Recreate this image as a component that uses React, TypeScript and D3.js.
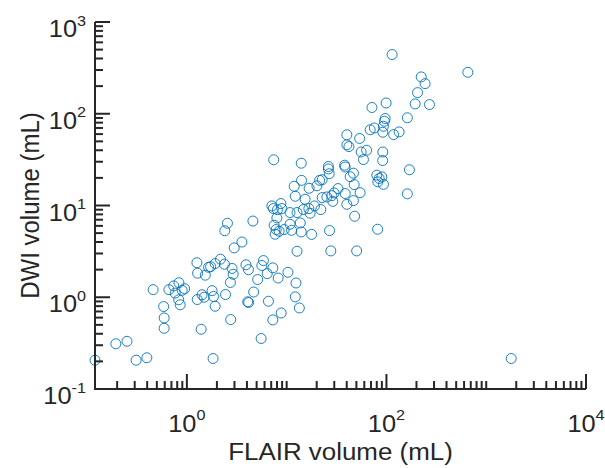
import * as d3 from "d3";

// values (mL)
const flairVolume = [
  0.12, 0.194, 0.251, 0.31, 0.397, 1.83, 5.55, 0.459, 0.585, 0.592, 0.592, 0.66, 0.738, 0.832, 0.763, 0.897,
  0.828, 0.857, 0.95, 1.39, 1.27, 1.42, 1.49, 1.79, 1.85, 1.92, 2.44, 2.75, 2.73, 1.26, 1.28, 1.53, 1.65, 1.73,
  1.92, 2.17, 2.38, 2.84, 2.91, 2.98, 3.56, 2.4, 2.55, 4.59, 3.91, 4.14, 4.07, 4.16, 4.67, 5.12, 5.64, 5.85,
  6.38, 7.27, 8.22, 6.57, 7.27, 8.81, 10.3, 12.4, 12.2, 13.4, 12.7, 17.8, 26.9, 27.7, 50.3, 48.0, 81.6, 1780,
  7.41, 14.0, 26.2, 26.2, 26.7, 38.1, 38.6, 43.3, 46.7, 55.8, 63.3, 58.8, 80.1, 84.5, 82.0, 89.9, 93.3, 11.9,
  14.1, 16.8, 20.1, 21.4, 22.7, 32.7, 38.6, 47.5, 54.5, 22.7, 25.3, 28.4, 29.9, 29.0, 46.7, 40.1, 12.2, 15.3,
  19.0, 22.0, 16.7, 14.7, 12.7, 10.8, 7.11, 7.37, 8.75, 8.95, 8.09, 7.98, 7.49, 7.85, 8.41, 7.67, 9.44, 10.8,
  13.7, 14.0, 17.2, 162, 170, 114, 654, 223, 244, 205, 194, 270, 162, 99.3, 71.6, 97.1, 95.5, 93.3, 92.0, 68.7,
  75.7, 118, 134, 40.1, 53.9, 40.1, 42.1, 92.0, 91.6, 11.2,
];
const dwiVolume = [
  0.206, 0.311, 0.331, 0.206, 0.219, 0.215, 0.355, 1.21, 0.792, 0.595, 0.459, 1.21, 1.33, 1.44, 1.11, 1.19,
  0.939, 0.829, 1.24, 0.448, 0.944, 1.065, 1.0, 1.18, 1.02, 0.798, 1.07, 0.571, 1.45, 2.38, 1.83, 1.74, 2.12,
  2.15, 2.33, 2.6, 2.29, 2.06, 1.78, 3.45, 4.0, 5.31, 6.41, 6.77, 2.26, 2.0, 0.893, 0.876, 1.14, 1.56, 2.22,
  2.51, 1.81, 2.09, 1.62, 0.905, 0.566, 0.674, 1.87, 1.43, 1.01, 0.764, 3.17, 4.84, 5.33, 3.2, 3.2, 7.64, 5.51,
  0.215, 31.5, 28.9, 26.6, 25.0, 22.2, 27.5, 26.3, 20.6, 22.5, 38.3, 40.0, 31.7, 21.4, 19.7, 18.1, 20.5, 17.0,
  16.2, 18.8, 15.4, 16.4, 18.8, 19.1, 15.3, 13.5, 16.9, 13.8, 12.2, 12.4, 12.8, 13.7, 11.1, 11.3, 10.3, 12.6,
  11.7, 9.89, 9.03, 9.26, 9.03, 8.38, 8.38, 9.89, 9.26, 10.5, 9.26, 8.99, 7.32, 6.09, 5.47, 5.24, 4.86, 5.47,
  6.25, 6.46, 5.15, 8.23, 13.4, 24.5, 442, 283, 252, 213, 170, 128, 126, 90.4, 131, 117, 88.7, 82.8, 73.1, 62.9,
  66.9, 70.0, 59.3, 63.4, 59.0, 53.8, 45.9, 43.9, 38.3, 30.9, 5.37,
];

const xDomain = [0.12, 10000];
const yDomain = [0.1, 1000];
const xLabelTicks = [1, 100, 10000];
const yLabelTicks = [0.1, 1, 10, 100, 1000];

const W = 605;
const H = 468;
const M = { left: 95, right: 19, top: 22, bottom: 79 };
const ink = "#262626";
const font = "'Liberation Sans', Arial, sans-serif";
const stretch = 1.08; // reference text is a little wider than tall

export default function App() {
  const x = d3.scaleLog().domain(xDomain).range([M.left, W - M.right]);
  const y = d3.scaleLog().domain(yDomain).range([H - M.bottom, M.top]);
  const x0 = M.left;
  const y0 = H - M.bottom;

  const isMajor = (v: number, majors: number[]) =>
    majors.some((m) => Math.abs(v / m - 1) < 1e-6);

  const xTicks = x.ticks();
  const yTicks = y.ticks();
  const exp = (v: number) => String(Math.round(Math.log10(v)));
  const pts = flairVolume.map((f, i) => [f, dwiVolume[i]]);

  return (
    <div style={{ position: "fixed", left: 0, top: 0 }}>
      <svg width={W} height={H} style={{ display: "block", background: "#fff" }}>
        <g fill="none" stroke="#0072BD" strokeWidth={0.9}>
          {pts.map(([f, d], i) => (
            <circle key={i} cx={x(f)} cy={y(d)} r={5} />
          ))}
        </g>

        <g stroke={ink} strokeWidth={2} fill="none">
          <line x1={x0 - 1} x2={W - M.right} y1={y0} y2={y0} />
          <line x1={x0} x2={x0} y1={y0} y2={M.top} />
          {xTicks.map((v, i) => (
            <line key={"xt" + i} x1={x(v)} x2={x(v)} y1={y0} y2={y0 - (isMajor(v, xLabelTicks) ? 15 : 8)} />
          ))}
          {yTicks.map((v, i) => (
            <line key={"yt" + i} x1={x0} x2={x0 + (isMajor(v, yLabelTicks) ? 15 : 8)} y1={y(v)} y2={y(v)} />
          ))}
        </g>

        <g fill={ink} fontFamily={font}>
          {xLabelTicks.map((v) => (
            <text key={"xl" + v} transform={`translate(${x(v)},432) scale(${stretch},1)`} textAnchor="middle" fontSize={23.5}>
              10<tspan dy={-12.5} fontSize={15}>{exp(v)}</tspan>
            </text>
          ))}
          {yLabelTicks.map((v) => (
            <text key={"yl" + v} transform={`translate(86,${y(v) + 15}) scale(${stretch},1)`} textAnchor="end" fontSize={23.5}>
              10<tspan dy={-11.5} fontSize={15}>{exp(v)}</tspan>
            </text>
          ))}
          <text transform={`translate(${(M.left + W - M.right) / 2},460) scale(${stretch},1)`} textAnchor="middle" fontSize={24}>
            FLAIR volume (mL)
          </text>
          <text transform={`translate(39,${(M.top + y0) / 2}) scale(${stretch},1) rotate(-90)`} textAnchor="middle" fontSize={24}>
            DWI volume (mL)
          </text>
        </g>
      </svg>
    </div>
  );
}
